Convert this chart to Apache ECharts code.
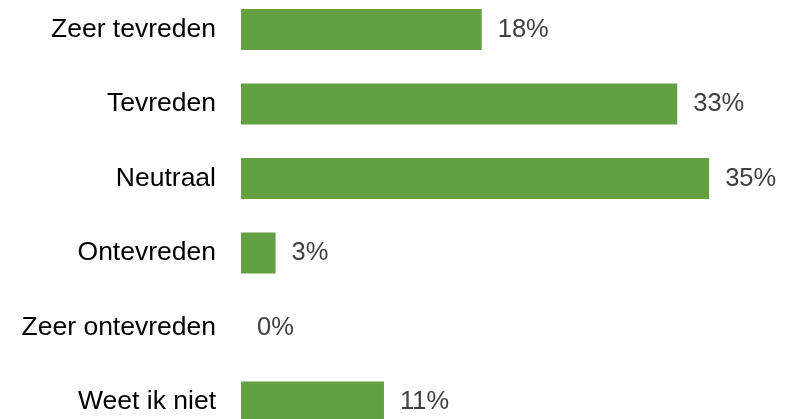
<!DOCTYPE html>
<html>
<head>
<meta charset="utf-8">
<script src="https://cdn.jsdelivr.net/npm/echarts@6/dist/echarts.min.js"></script>
<style>
html,body{margin:0;padding:0;background:#fff;overflow:hidden;width:798px;height:419px;}
#chart{position:absolute;left:0;top:-8px;width:798px;height:460px;}
</style>
</head>
<body>
<div id="chart"></div>
<script>
const categories = ["Zeer tevreden", "Tevreden", "Neutraal", "Ontevreden", "Zeer ontevreden", "Weet ik niet"];
const values = [18.1, 32.8, 35.2, 2.6, 0, 10.75];

const chart = echarts.init(document.getElementById('chart'), null, {renderer: 'canvas'});
chart.setOption({
  animation: false,
  backgroundColor: '#ffffff',
  grid: {left: 241, width: 532, top: 0.25, height: 447, containLabel: false},
  xAxis: {
    type: 'value', min: 0, max: 40, show: false
  },
  yAxis: {
    type: 'category', data: categories, inverse: true,
    axisLine: {show: false}, axisTick: {show: false}, splitLine: {show: false},
    axisLabel: {color: '#000000', fontFamily: 'Liberation Sans, Arial, sans-serif', fontSize: 26.5, margin: 25}
  },
  series: [{
    type: 'bar', data: values, barWidth: 41,
    itemStyle: {color: '#63a044'},
    label: {
      show: true, position: 'right', distance: 16,
      color: '#404040', fontFamily: 'Liberation Sans, Arial, sans-serif', fontSize: 25.5,
      formatter: p => Math.round(p.value) + '%'
    }
  }]
});
</script>
</body>
</html>
